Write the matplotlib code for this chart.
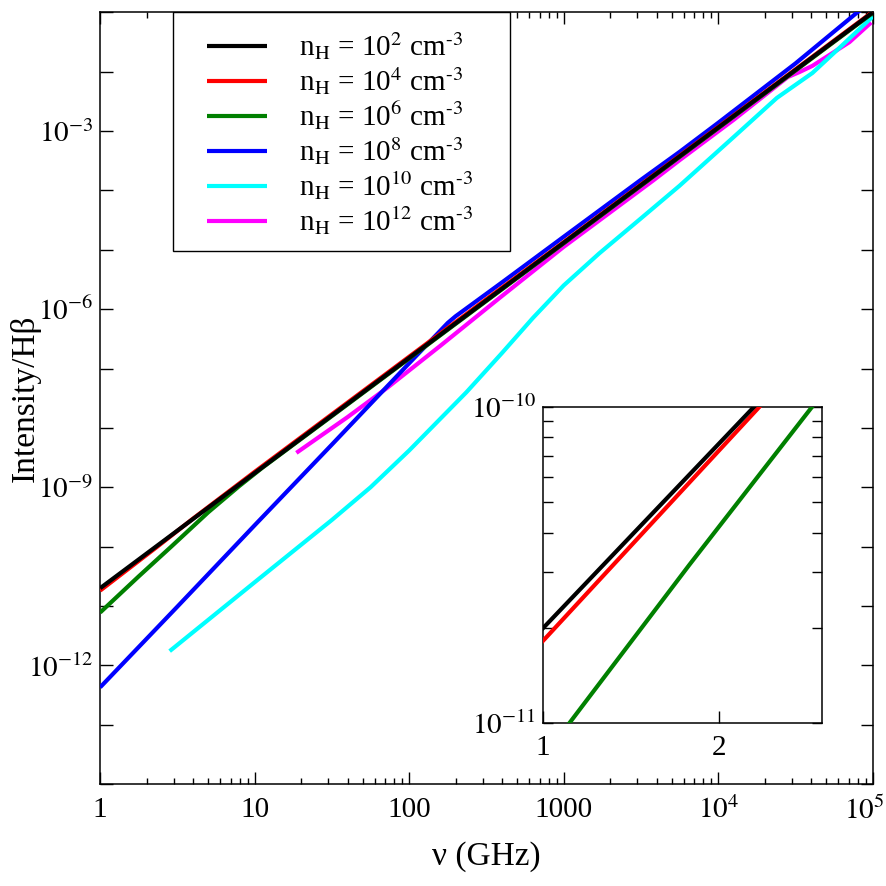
import matplotlib
matplotlib.use("Agg")
import numpy as np
import matplotlib.pyplot as plt
import matplotlib.transforms as mtransforms
from matplotlib.patches import Rectangle

plt.rcParams["font.family"] = ["Liberation Serif", "DejaVu Serif"]
plt.rcParams["mathtext.fontset"] = "stix"

# ---------------------------------------------------------
# data: log10(nu / GHz), log10(I / Hbeta)
# ---------------------------------------------------------
lx_1e2 = [0, 0.5, 1, 1.5, 2, 2.5, 3, 3.5, 4, 4.5, 5]
ly_1e2 = [-10.70, -9.73, -8.76, -7.79, -6.82, -5.85, -4.88, -3.91, -2.94, -1.97, -1.00]

lx_1e4 = [0, 0.37, 0.6, 1, 1.5, 2, 2.5, 3, 3.5, 4, 4.5, 5]
ly_1e4 = [-10.74, -10.00, -9.53, -8.74, -7.77, -6.80, -5.83, -4.87, -3.90, -2.93, -1.96, -0.99]

lx_1e6 = [0, 0.25, 0.46, 0.7, 0.9, 1.05, 1.5, 2, 2.5, 3, 3.5, 4, 4.5, 5]
ly_1e6 = [-11.11, -10.50, -10.00, -9.42, -8.98, -8.67, -7.80, -6.83, -5.86, -4.89, -3.92, -2.95, -1.98, -1.01]

lx_1e8 = [0, 0.5, 1, 1.5, 2, 2.25, 2.3, 2.6, 3, 3.5, 3.75, 4, 4.5, 4.9, 5]
ly_1e8 = [-12.37, -11.01, -9.64, -8.28, -6.91, -6.23, -6.12, -5.55, -4.78, -3.82, -3.35, -2.86, -1.86, -1.00, -0.80]

lx_1e10 = [0.45, 1.0, 1.5, 1.75, 2.0, 2.2, 2.37, 2.6, 2.8, 3.0, 3.23, 3.5, 3.75, 4.1, 4.38, 4.61, 4.8, 5.0]
ly_1e10 = [-11.76, -10.60, -9.55, -9.00, -8.38, -7.85, -7.40, -6.74, -6.15, -5.60, -5.06, -4.47, -3.92, -3.10, -2.44, -2.02, -1.56, -1.07]

lx_1e12 = [1.27, 1.6, 1.86, 2.2, 2.59, 3.0, 3.58, 3.75, 4.1, 4.45, 4.53, 4.61, 4.85, 4.99]
ly_1e12 = [-8.42, -7.82, -7.32, -6.62, -5.80, -4.95, -3.83, -3.49, -2.81, -2.09, -2.00, -1.90, -1.50, -1.17]

labels = [r"n$_{\rm H}$ = 10$^{2}$ cm$^{\text{-3}}$",
          r"n$_{\rm H}$ = 10$^{4}$ cm$^{\text{-3}}$",
          r"n$_{\rm H}$ = 10$^{6}$ cm$^{\text{-3}}$",
          r"n$_{\rm H}$ = 10$^{8}$ cm$^{\text{-3}}$",
          r"n$_{\rm H}$ = 10$^{10}$ cm$^{\text{-3}}$",
          r"n$_{\rm H}$ = 10$^{12}$ cm$^{\text{-3}}$"]
colors = ["black", "red", "green", "blue", "cyan", "magenta"]
curves = [(lx_1e2, ly_1e2), (lx_1e4, ly_1e4), (lx_1e6, ly_1e6),
          (lx_1e8, ly_1e8), (lx_1e10, ly_1e10), (lx_1e12, ly_1e12)]

xtick_vals = [1, 10, 100, 1000, 1e4, 1e5]
xtick_labels = ["1", "10", "100", "1000", r"$10^{4}$", r"$10^{5}$"]
ytick_vals = [1e-12, 1e-9, 1e-6, 1e-3]
ytick_labels = [r"$10^{-12}$", r"$10^{-9}$", r"$10^{-6}$", r"$10^{-3}$"]

# ---------------------------------------------------------
# main panel
# ---------------------------------------------------------
fig = plt.figure(figsize=(8.86, 8.86), dpi=100)
ax = fig.add_axes([0.113, 0.115, 0.872, 0.871])

for i, ((lx, ly), c, lab) in enumerate(zip(curves, colors, labels)):
    ax.plot(10 ** np.array(lx), 10 ** np.array(ly), color=c, lw=3, label=lab,
            zorder=10 - i, solid_capstyle="butt")

ax.set_xscale("log")
ax.set_yscale("log")
ax.set_xlim(1, 1e5)
ax.set_ylim(1e-14, 1e-1)

ax.set_xticks(xtick_vals, xtick_labels)
ax.set_xticks([m * 10 ** d for d in range(5) for m in range(2, 10)], minor=True)
ax.xaxis.set_minor_formatter(plt.NullFormatter())
ax.set_yticks(ytick_vals, ytick_labels)
ax.set_yticks([10.0 ** e for e in range(-14, 0) if e % 3 != 0], minor=True)
ax.yaxis.set_minor_formatter(plt.NullFormatter())

ax.tick_params(which="both", direction="in", top=True, right=True, width=1.0,
               labelsize=21)
ax.tick_params(axis="x", which="major", length=8.5, pad=9)
ax.tick_params(axis="x", which="minor", length=4.3)
ax.tick_params(axis="y", which="both", length=9, pad=5)
for s in ax.spines.values():
    s.set_linewidth(1.1)

# keep the last x label inside the figure
last = ax.get_xticklabels()[-1]
last.set_transform(last.get_transform() +
                   mtransforms.ScaledTranslation(-8 / 100, 0, fig.dpi_scale_trans))

ax.set_xlabel("ν (GHz)", fontsize=24)
ax.set_ylabel("Intensity/Hβ", fontsize=24)
ax.xaxis.set_label_coords(0.5, -0.074)
ax.yaxis.set_label_coords(-0.077, 0.5)

# legend: frameless entries plus a separate box
ax.add_patch(Rectangle((0.094, 0.691), 0.436, 0.309, transform=ax.transAxes,
                       facecolor="white", edgecolor="black", lw=1.0, zorder=19))
leg = ax.legend(loc="upper left", bbox_to_anchor=(0.138, 0.976), borderaxespad=0,
                fontsize=21, frameon=False, borderpad=0,
                handlelength=2.05, handletextpad=1.1, labelspacing=0.1)
leg.set_zorder(20)

# ---------------------------------------------------------
# inset: low frequency end
# ---------------------------------------------------------
axin = fig.add_axes([0.613, 0.184, 0.315, 0.357])
for i, ((lx, ly), c) in enumerate(zip(curves[:3], colors[:3])):
    axin.plot(10 ** np.array(lx), 10 ** np.array(ly), color=c, lw=3,
              zorder=10 - i)
axin.set_xscale("log")
axin.set_yscale("log")
axin.set_xlim(1, 3)
axin.set_ylim(1e-11, 1e-10)
axin.set_xticks([1, 2], ["1", "2"])
axin.set_xticks([], minor=True)
axin.set_yticks([1e-11, 1e-10], [r"$10^{-11}$", r"$10^{-10}$"])
axin.set_yticks([m * 1e-11 for m in range(2, 10)], minor=True)
axin.yaxis.set_minor_formatter(plt.NullFormatter())
axin.tick_params(which="both", direction="in", right=True, width=1.0,
                 labelsize=21)
axin.tick_params(axis="x", length=8.5, pad=9)
axin.tick_params(axis="y", which="both", length=7, pad=5)
for s in axin.spines.values():
    s.set_linewidth(1.1)

fig.savefig("out.png", dpi=100)
